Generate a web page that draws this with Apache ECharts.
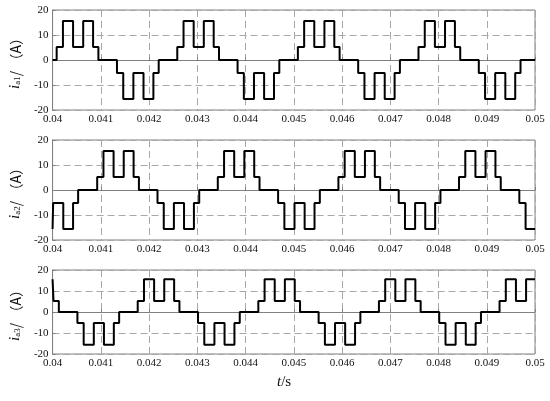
<!DOCTYPE html>
<html><head><meta charset="utf-8">
<script src="https://cdn.jsdelivr.net/npm/echarts@6/dist/echarts.min.js"></script>
<style>html,body{margin:0;padding:0;background:#fff}#c{width:550px;height:401px}</style>
</head><body><div id="c"></div>
<script>
// Panel 1: i_a1 (step breakpoints: time in s, value in A holds until next time)
const t1 = [0.04, 0.040085, 0.040215, 0.040425, 0.040635, 0.04084, 0.04095,
  0.041335, 0.041465, 0.041675, 0.041885, 0.04209, 0.0422,
  0.042585, 0.042715, 0.042925, 0.043135, 0.04334, 0.04345,
  0.043835, 0.043965, 0.044175, 0.044385, 0.04459, 0.0447,
  0.045085, 0.045215, 0.045425, 0.045635, 0.04584, 0.04595,
  0.046335, 0.046465, 0.046675, 0.046885, 0.04709, 0.0472,
  0.047585, 0.047715, 0.047925, 0.048135, 0.04834, 0.04845,
  0.048835, 0.048965, 0.049175, 0.049385, 0.04959, 0.0497, 0.05];
const v1 = [0, 5.2, 15.6, 5.2, 15.6, 5.2, 0,
  -5.2, -15.6, -5.2, -15.6, -5.2, 0,
  5.2, 15.6, 5.2, 15.6, 5.2, 0,
  -5.2, -15.6, -5.2, -15.6, -5.2, 0,
  5.2, 15.6, 5.2, 15.6, 5.2, 0,
  -5.2, -15.6, -5.2, -15.6, -5.2, 0,
  5.2, 15.6, 5.2, 15.6, 5.2, 0,
  -5.2, -15.6, -5.2, -15.6, -5.2, 0, 0];
// Panel 2: i_a2
const t2 = [0.04, 0.040012, 0.040222, 0.040425, 0.04053,
  0.040925, 0.041055, 0.041265, 0.041475, 0.04168, 0.04179,
  0.042175, 0.042305, 0.042515, 0.042725, 0.04293, 0.04304,
  0.043425, 0.043555, 0.043765, 0.043975, 0.04418, 0.04429,
  0.044675, 0.044805, 0.045015, 0.045225, 0.04543, 0.04554,
  0.045925, 0.046055, 0.046265, 0.046475, 0.04668, 0.04679,
  0.047175, 0.047305, 0.047515, 0.047725, 0.04793, 0.04804,
  0.048425, 0.048555, 0.048765, 0.048975, 0.04918, 0.04929,
  0.049675, 0.049805, 0.05];
const v2 = [-15.6, -5.2, -15.6, -5.2, 0,
  5.2, 15.6, 5.2, 15.6, 5.2, 0,
  -5.2, -15.6, -5.2, -15.6, -5.2, 0,
  5.2, 15.6, 5.2, 15.6, 5.2, 0,
  -5.2, -15.6, -5.2, -15.6, -5.2, 0,
  5.2, 15.6, 5.2, 15.6, 5.2, 0,
  -5.2, -15.6, -5.2, -15.6, -5.2, 0,
  5.2, 15.6, 5.2, 15.6, 5.2, 0,
  -5.2, -15.6, -15.6];
// Panel 3: i_a3
const t3 = [0.04, 0.04002, 0.04013,
  0.040515, 0.040645, 0.040855, 0.041065, 0.04127, 0.04138,
  0.041765, 0.041895, 0.042105, 0.042315, 0.04252, 0.04263,
  0.043015, 0.043145, 0.043355, 0.043565, 0.04377, 0.04388,
  0.044265, 0.044395, 0.044605, 0.044815, 0.04502, 0.04513,
  0.045515, 0.045645, 0.045855, 0.046065, 0.04627, 0.04638,
  0.046765, 0.046895, 0.047105, 0.047315, 0.04752, 0.04763,
  0.048015, 0.048145, 0.048355, 0.048565, 0.04877, 0.04888,
  0.049265, 0.049395, 0.049605, 0.049815, 0.05];
const v3 = [15.6, 5.2, 0,
  -5.2, -15.6, -5.2, -15.6, -5.2, 0,
  5.2, 15.6, 5.2, 15.6, 5.2, 0,
  -5.2, -15.6, -5.2, -15.6, -5.2, 0,
  5.2, 15.6, 5.2, 15.6, 5.2, 0,
  -5.2, -15.6, -5.2, -15.6, -5.2, 0,
  5.2, 15.6, 5.2, 15.6, 5.2, 0,
  -5.2, -15.6, -5.2, -15.6, -5.2, 0,
  5.2, 15.6, 5.2, 15.6, 15.6];
const subs = ['a1', 'a2', 'a3'];
const xTicks = {min: 0.04, max: 0.05, interval: 0.001};
const yTicks = {min: -20, max: 20, interval: 10};
const xTitle = ['t', '/s'];

const chart = echarts.init(document.getElementById('c'));
const grids = [
  {left: 35, top: 10, width: 500, height: 100},
  {left: 35, top: 140, width: 500, height: 100},
  {left: 35, top: 270, width: 500, height: 84}
];
const serif = '"Liberation Serif", "Times New Roman", serif';
const gridLine = {show: true, lineStyle: {color: '#a8a8a8', type: [7, 4], width: 1}};
const times = [t1, t2, t3], vals = [v1, v2, v3];
const option = {
  animation: false,
  grid: grids.map(g => Object.assign({show: true, borderColor: '#808080', borderWidth: 1, backgroundColor: 'transparent'}, g)),
  xAxis: grids.map((g, i) => ({
    type: 'value', gridIndex: i, min: xTicks.min, max: xTicks.max, interval: xTicks.interval,
    axisLine: {show: true, lineStyle: {color: '#808080'}},
    axisTick: {show: true, inside: true, length: 3, lineStyle: {color: '#808080'}},
    splitLine: gridLine,
    axisLabel: {color: '#111', fontFamily: serif, fontSize: 11, margin: 4,
      formatter: v => String(parseFloat(v.toFixed(3)))}
  })),
  yAxis: grids.map((g, i) => ({
    type: 'value', gridIndex: i, min: yTicks.min, max: yTicks.max, interval: yTicks.interval,
    axisLine: {show: true, lineStyle: {color: '#808080'}},
    axisTick: {show: true, inside: true, length: 3, lineStyle: {color: '#808080'}},
    splitLine: gridLine,
    axisLabel: {color: '#111', fontFamily: serif, fontSize: 11, margin: 4},
    name: '{i|i}{s|' + subs[i] + '}{r|/ （A）}',
    nameLocation: 'middle', nameRotate: 90, nameGap: 14,
    nameTextStyle: {
      rich: {
        i: {fontFamily: serif, fontStyle: 'italic', fontSize: 15, color: '#111'},
        s: {fontFamily: serif, fontSize: 9, color: '#111', padding: [5, 0, 0, 0]},
        r: {fontFamily: '"Noto Sans CJK SC", sans-serif', fontSize: 14, color: '#111'}
      }
    }
  })),
  graphic: [{
    type: 'text', left: 277, top: 375,
    style: {text: '{t|' + xTitle[0] + '}{s|' + xTitle[1] + '}',
      rich: {t: {fontFamily: serif, fontStyle: 'italic', fontSize: 15, fill: '#111'},
             s: {fontFamily: serif, fontSize: 15, fill: '#111'}}}
  }],
  series: times.map((t, i) => ({
    type: 'line', xAxisIndex: i, yAxisIndex: i, step: 'end', showSymbol: false,
    lineStyle: {color: '#000', width: 2},
    data: t.map((x, k) => [x, vals[i][k]])
  }))
};
chart.setOption(option);
</script></body></html>
